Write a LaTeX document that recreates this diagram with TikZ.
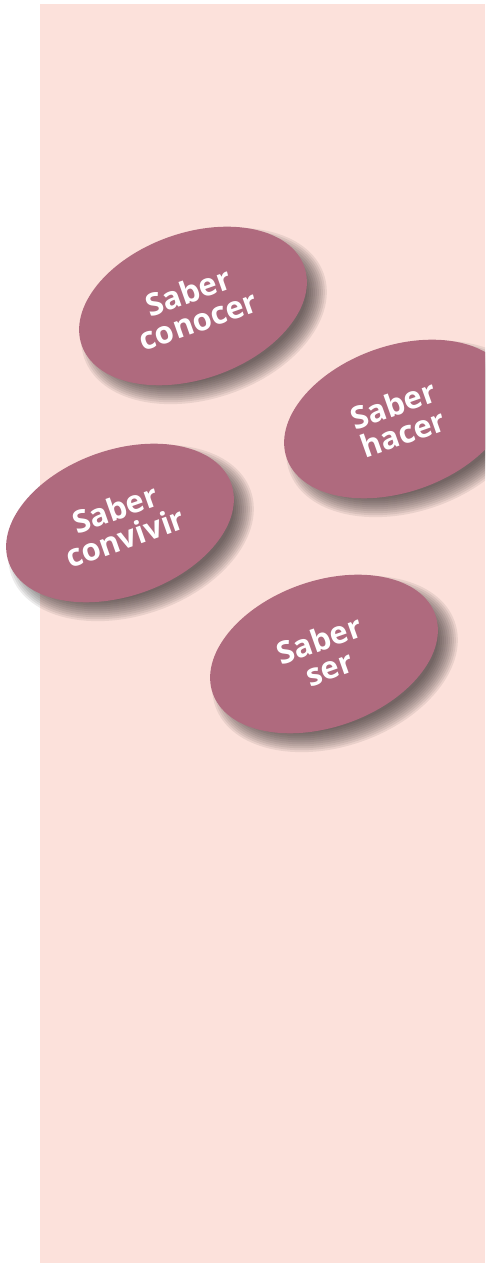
\documentclass[tikz,border=0pt]{standalone}
\usepackage{fontspec}
\setsansfont{Open Sans}
\usetikzlibrary{shapes.geometric}
\definecolor{bgpink}{HTML}{FCE1DB}
\definecolor{mauve}{HTML}{AF6A7E}
\definecolor{shad}{HTML}{2E2828}
\tikzset{
  pill/.style={ellipse, fill=mauve, minimum width=236pt, minimum height=146pt,
    inner sep=0pt, rotate=19.5, text=white,
    font=\sffamily\bfseries\fontsize{31}{30}\selectfont, align=center},
}
\newcommand\softshadow[2]{%
  \foreach \d in {-10,-8,...,10}{%
    \fill[shad, opacity=0.09, rotate around={19.5:(#1+11,#2-10)}]
      (#1+11,#2-10) ellipse [x radius={117+\d}, y radius={72+\d}];
  }}
\begin{document}
\begin{tikzpicture}[x=1pt,y=1pt]
  \useasboundingbox (0,0) rectangle (485,1263);
  \clip (0,0) rectangle (485,1263);
  \fill[white] (0,0) rectangle (485,1263);
  \fill[bgpink] (40,0) rectangle (485,1259);
  % shadows
  \softshadow{193}{957}
  \softshadow{398}{844}
  \softshadow{120}{740}
  \softshadow{324}{609}
  % ellipses
  \node[pill] (conocer) at (193,957) {Saber\\conocer};
  \node[pill] (hacer) at (398,844) {Saber\\hacer};
  \node[pill] (convivir) at (120,740) {Saber\\convivir};
  \node[pill] (ser) at (324,609) {Saber\\ser};
\end{tikzpicture}
\end{document}
